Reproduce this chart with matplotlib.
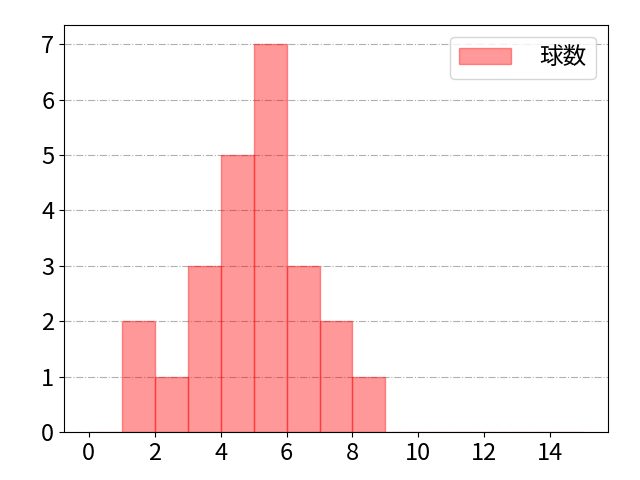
import matplotlib
matplotlib.use("Agg")
import matplotlib.pyplot as plt

plt.rcParams['font.family'] = ['Noto Sans CJK JP', 'DejaVu Sans']

bin_edges = list(range(0, 16))
counts = [0, 2, 1, 3, 5, 7, 3, 2, 1, 0, 0, 0, 0, 0, 0]
label = "球数"

fig, ax = plt.subplots(figsize=(6.4, 4.8), dpi=100)
ax.bar(bin_edges[:-1], counts, width=1, align='edge',
       color='red', alpha=0.4, edgecolor='red', linewidth=1.0, label=label)
ax.grid(axis='y', linestyle='-.', color='#b0b0b0', linewidth=0.8)
ax.set_axisbelow(True)
ax.set_xticks(range(0, 16, 2))
ax.tick_params(labelsize=17)
ax.legend(fontsize=17, loc='upper right', handlelength=2.2, handletextpad=1.2)
fig.subplots_adjust(left=0.1, right=0.95, top=0.948, bottom=0.1)
fig.savefig("out.png")
